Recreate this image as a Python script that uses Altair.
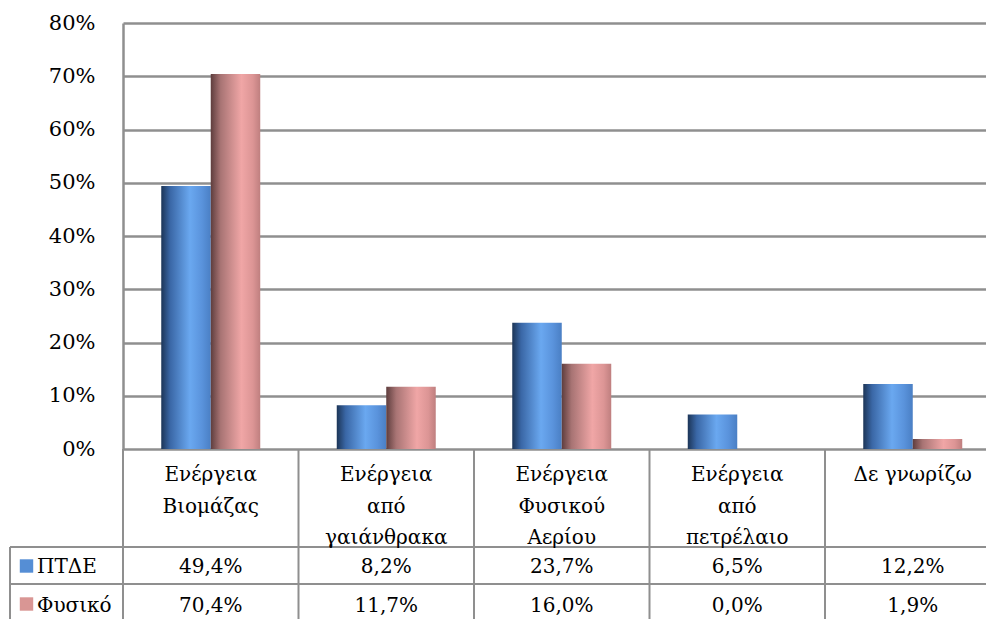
import altair as alt
import pandas as pd

categories = ["Ενέργεια\nΒιομάζας", "Ενέργεια\nαπό\nγαιάνθρακα", "Ενέργεια\nΦυσικού\nΑερίου",
              "Ενέργεια\nαπό\nπετρέλαιο", "Δε γνωρίζω"]
series_names = ["ΠΤΔΕ", "Φυσικό"]
ptde_values = [49.4, 8.2, 23.7, 6.5, 12.2]
fysiko_values = [70.4, 11.7, 16.0, 0.0, 1.9]
y_ticks = [0, 10, 20, 30, 40, 50, 60, 70, 80]
legend_colors = ["#558ED5", "#D99694"]

rows = []
for s, vals in zip(series_names, [ptde_values, fysiko_values]):
    for c, v in zip(categories, vals):
        rows.append({"cat": c, "series": s, "value": v,
                     "label": f"{v:.1f}%".replace(".", ",")})
df = pd.DataFrame(rows)
cat_df = pd.DataFrame({"cat": categories})
leg_df = pd.DataFrame({"series": series_names, "color": legend_colors})

FONT = "DejaVu Serif"
FS = 20
W, H = 863, 426
XR = [0, 877.5]

xs = alt.Scale(type="band", domain=categories, range=XR, paddingInner=0, paddingOuter=0)
ys = alt.Scale(domain=[0, 80])
xo = alt.Scale(domain=series_names, paddingInner=0, paddingOuter=0.773)

blue_grad = alt.Gradient(gradient="linear", x1=0, x2=1, y1=0, y2=0, stops=[
    alt.GradientStop(color="#1c3557", offset=0),
    alt.GradientStop(color="#3a67a6", offset=0.18),
    alt.GradientStop(color="#6aa8f0", offset=0.58),
    alt.GradientStop(color="#5a93dc", offset=0.82),
    alt.GradientStop(color="#4a7fc4", offset=1)])
pink_grad = alt.Gradient(gradient="linear", x1=0, x2=1, y1=0, y2=0, stops=[
    alt.GradientStop(color="#5e3d3d", offset=0),
    alt.GradientStop(color="#a87474", offset=0.2),
    alt.GradientStop(color="#f0a6a6", offset=0.62),
    alt.GradientStop(color="#dc9595", offset=0.85),
    alt.GradientStop(color="#bf7f7f", offset=1)])

base = alt.Chart(df)

axis_layer = alt.Chart(cat_df).mark_bar(opacity=0).encode(
    x=alt.X("cat:N", scale=xs, axis=None),
    y=alt.Y("zero:Q", scale=ys, axis=alt.Axis(
        values=y_ticks, labelExpr="datum.value + '%'", grid=True, gridColor="#8f8f8f",
        gridWidth=2.5, ticks=False, domain=True, domainColor="#8f8f8f", domainWidth=2.5,
        labelPadding=28, labelFontSize=21, labelFont=FONT, labelColor="#000",
        labelBaseline="middle", title=None)),
).transform_calculate(zero="0")

def bars(sname, grad):
    return base.transform_filter(alt.datum.series == sname).mark_bar(color=grad).encode(
        x=alt.X("cat:N", scale=xs, axis=None),
        xOffset=alt.XOffset("series:N", scale=xo),
        y=alt.Y("value:Q", scale=ys, axis=None),
    )

sep = alt.Chart(cat_df).mark_rule(color="#8f8f8f", strokeWidth=2).encode(
    x=alt.X("cat:N", scale=xs, axis=None, bandPosition=0),
    y=alt.value(H), y2=alt.value(H + 200))

cat_text = alt.Chart(cat_df).mark_text(font=FONT, fontSize=FS, lineBreak="\n", lineHeight=31.5,
                                       baseline="alphabetic", align="center", color="#000").encode(
    x=alt.X("cat:N", scale=xs, axis=None, bandPosition=0.5),
    y=alt.value(H + 32), text="cat:N")

row_scale = alt.Scale(type="point", domain=series_names, range=[550, 589], padding=0)
val_text = base.mark_text(font=FONT, fontSize=FS, baseline="alphabetic", align="center",
                          color="#000").encode(
    x=alt.X("cat:N", scale=xs, axis=None, bandPosition=0.5),
    y=alt.Y("series:N", scale=row_scale, axis=None), text="label:N")

hlines = alt.Chart(pd.DataFrame({"yy": [524, 561]})).mark_rule(color="#8f8f8f", strokeWidth=2).encode(
    x=alt.value(-113), x2=alt.value(W), y=alt.Y("yy:Q", scale=alt.Scale(domain=[0, 619 - 23], range=[0, 619 - 23], nice=False, zero=True), axis=None))
leftline = alt.Chart(cat_df.head(1)).mark_rule(color="#8f8f8f", strokeWidth=2).encode(
    x=alt.value(-113), y=alt.value(524), y2=alt.value(620))

leg_sq = alt.Chart(leg_df).mark_square(size=180, opacity=1).encode(
    x=alt.value(-96.5),
    y=alt.Y("series:N", scale=alt.Scale(type="point", domain=series_names, range=[543, 581], padding=0), axis=None),
    color=alt.Color("color:N", scale=None))
leg_text = alt.Chart(leg_df).mark_text(font=FONT, fontSize=FS, baseline="alphabetic", align="left",
                                       color="#000").encode(
    x=alt.value(-86),
    y=alt.Y("series:N", scale=alt.Scale(type="point", domain=series_names, range=[550, 589], padding=0), axis=None),
    text="series:N")

chart = alt.layer(
    axis_layer, bars("ΠΤΔΕ", blue_grad), bars("Φυσικό", pink_grad),
    sep, hlines, leftline, cat_text, val_text, leg_sq, leg_text
).resolve_scale(y="independent").properties(
    width=W, height=H,
    autosize=alt.AutoSizeParams(type="none"),
    padding={"left": 123, "top": 23, "right": 0, "bottom": 170},
    background="white",
).configure_view(stroke=None)

chart.save("out.html", embed_options={"renderer": "svg", "actions": False})
